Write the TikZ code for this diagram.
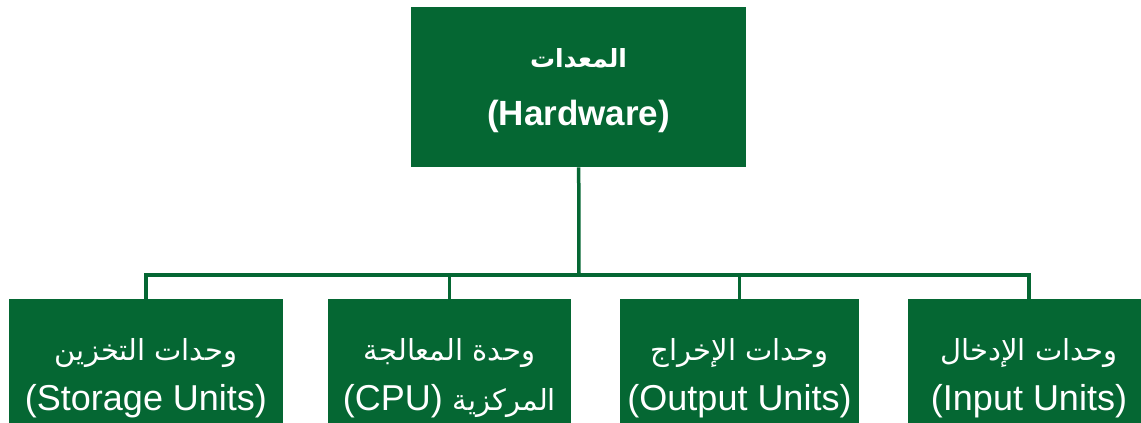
\documentclass[tikz,border=0pt]{standalone}
\usepackage{fontspec}
\setmainfont{Liberation Sans}
\newfontfamily\arabicfont[Script=Arabic]{DejaVu Sans}
\TeXXeTstate=1
\definecolor{boxgreen}{RGB}{5,103,51}
\begin{document}
\begin{tikzpicture}[x=1pt,y=-1pt,
  box/.style={fill=boxgreen, draw=none, inner sep=0pt, anchor=north west},
  conn/.style={draw=boxgreen, line width=3.5pt, line join=miter},
  entxt/.style={text=white, font=\fontsize{36}{40}\selectfont, anchor=base, inner sep=0pt},
  artxt/.style={text=white, font=\arabicfont\fontsize{29}{34}\selectfont, anchor=base, inner sep=0pt},
  titleen/.style={entxt, font=\bfseries\fontsize{35}{40}\selectfont},
  titlear/.style={artxt, font=\arabicfont\bfseries\fontsize{25}{30}\selectfont}]
\useasboundingbox (0,0) rectangle (1141,423);

% boxes
\node[box, minimum width=335pt, minimum height=160pt] (hw) at (411,7) {};
\node[box, minimum width=274pt, minimum height=130pt] (storage) at (9,299) {};
\node[box, minimum width=243pt, minimum height=130pt] (cpu) at (328,299) {};
\node[box, minimum width=239pt, minimum height=130pt] (output) at (620,299) {};
\node[box, minimum width=242pt, minimum height=130pt] (input) at (908,299) {};

% connectors: trunk, bus and drops
\coordinate (bus) at (579,275);
\draw[conn] (hw.south) -- (bus);
\draw[conn] (storage.north) |- (input.north |- bus) -- (input.north);
\draw[conn] (cpu.north) -- (cpu.north |- bus);
\draw[conn] (output.north) -- (output.north |- bus);

% labels
\node[titlear] (hwar) at (578.5,67) {\beginR المعدات\endR};
\node[titleen] (hwen) at (578.5,125) {(Hardware)};

\node[artxt] (storagear) at (146,360) {\beginR وحدات التخزين\endR};
\node[entxt] (storageen) at (146,410) {(Storage Units)};

\node[artxt] (cpuar) at (449.5,360) {\beginR وحدة المعالجة\endR};
\node[entxt] (cpuen) at (449.5,410) {(CPU) {\arabicfont\fontsize{29}{34}\selectfont\beginR المركزية\endR}};

\node[artxt] (outputar) at (739.5,360) {\beginR وحدات الإخراج\endR};
\node[entxt] (outputen) at (739.5,410) {(Output Units)};

\node[artxt] (inputar) at (1029,360) {\beginR وحدات الإدخال\endR};
\node[entxt] (inputen) at (1029,410) {(Input Units)};
\end{tikzpicture}
\end{document}
